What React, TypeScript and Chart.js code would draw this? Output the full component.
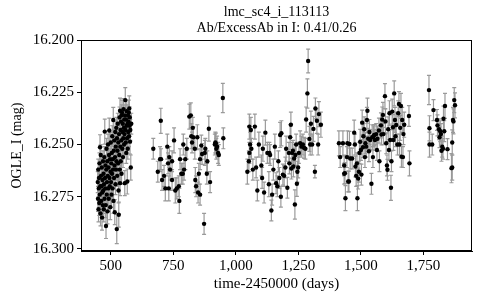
import React, { useEffect, useRef } from "react";
import { Chart, registerables } from "chart.js";

Chart.register(...registerables);

const TITLE_LINES = ["lmc_sc4_i_113113", "Ab/ExcessAb in I: 0.41/0.26"];
const X_TITLE = "time-2450000 (days)";
const Y_TITLE = "OGLE_I (mag)";
const X_TICKS = [500, 750, 1000, 1250, 1500, 1750];
const Y_TICKS = [16.2, 16.225, 16.25, 16.275, 16.3];
const X_RANGE = [381, 1944];
const Y_RANGE = [16.2, 16.301];

// [day, magnitude, error]
const season1: [number, number, number][] = [
  [448, 16.268, 0.005], [449, 16.276, 0.006], [450, 16.262, 0.005], [451, 16.281, 0.006], [452, 16.271, 0.005],
  [453, 16.266, 0.005], [454, 16.278, 0.006], [455, 16.259, 0.005], [456, 16.274, 0.005], [457, 16.2513, 0.006],
  [458, 16.27, 0.005], [459, 16.283, 0.006], [460, 16.255, 0.005], [461, 16.265, 0.005], [462, 16.277, 0.006],
  [463, 16.27, 0.005], [464, 16.261, 0.005], [465, 16.285, 0.006], [466, 16.273, 0.005], [467, 16.267, 0.005],
  [468, 16.279, 0.006], [469, 16.258, 0.005], [470, 16.272, 0.005], [471, 16.264, 0.005], [472, 16.281, 0.006],
  [473, 16.269, 0.005], [474, 16.256, 0.005], [475, 16.276, 0.006], [476, 16.2438, 0.006], [477, 16.266, 0.005],
  [478, 16.271, 0.005], [479, 16.26, 0.005], [480, 16.279, 0.006], [481, 16.289, 0.006], [482, 16.262, 0.005],
  [483, 16.252, 0.005], [484, 16.274, 0.005], [485, 16.268, 0.005], [486, 16.258, 0.005], [487, 16.282, 0.006],
  [488, 16.265, 0.005], [489, 16.25, 0.005], [490, 16.271, 0.005], [491, 16.261, 0.005], [492, 16.276, 0.006],
  [493, 16.255, 0.005], [494, 16.2433, 0.006], [495, 16.266, 0.005], [496, 16.27, 0.005], [497, 16.257, 0.005],
  [498, 16.28, 0.006], [499, 16.263, 0.005], [500, 16.249, 0.005], [501, 16.268, 0.005], [502, 16.259, 0.005],
  [503, 16.274, 0.006], [504, 16.254, 0.005], [505, 16.264, 0.005], [506, 16.246, 0.005], [507, 16.271, 0.005],
  [508, 16.257, 0.005], [509, 16.262, 0.005], [510, 16.2382, 0.006], [511, 16.277, 0.006], [512, 16.253, 0.005],
  [513, 16.266, 0.005], [514, 16.248, 0.005], [515, 16.26, 0.005], [516, 16.2824, 0.006], [517, 16.256, 0.005],
  [518, 16.244, 0.005], [519, 16.269, 0.005], [520, 16.251, 0.005], [521, 16.262, 0.005], [522, 16.242, 0.005],
  [523, 16.258, 0.005], [524, 16.2905, 0.007], [525, 16.247, 0.005], [526, 16.265, 0.005], [527, 16.253, 0.005],
  [528, 16.24, 0.005], [529, 16.259, 0.005], [530, 16.249, 0.005], [531, 16.272, 0.006], [532, 16.2836, 0.006],
  [533, 16.245, 0.005], [534, 16.255, 0.005], [535, 16.237, 0.005], [536, 16.262, 0.005], [537, 16.2338, 0.006],
  [537, 16.2685, 0.006], [538, 16.251, 0.005], [539, 16.243, 0.005], [540, 16.258, 0.005], [541, 16.239, 0.005],
  [542, 16.248, 0.005], [543, 16.264, 0.005], [544, 16.236, 0.005], [545, 16.2347, 0.006], [546, 16.252, 0.005],
  [547, 16.244, 0.005], [548, 16.24, 0.005], [549, 16.256, 0.005], [550, 16.247, 0.005], [551, 16.233, 0.005],
  [552, 16.242, 0.005], [553, 16.25, 0.005], [554, 16.238, 0.005], [555, 16.245, 0.005], [556, 16.2685, 0.006],
  [557, 16.236, 0.005], [558, 16.2287, 0.006], [559, 16.243, 0.005], [560, 16.249, 0.005], [561, 16.238, 0.005],
  [562, 16.254, 0.005], [563, 16.241, 0.005], [564, 16.234, 0.005], [565, 16.247, 0.005], [566, 16.2677, 0.006],
  [567, 16.24, 0.005], [568, 16.252, 0.005], [569, 16.236, 0.005], [570, 16.244, 0.005], [571, 16.239, 0.005],
  [572, 16.2347, 0.006], [573, 16.246, 0.005], [574, 16.2327, 0.006], [575, 16.241, 0.005], [576, 16.237, 0.005],
  [577, 16.2486, 0.006], [578, 16.243, 0.005], [580, 16.261, 0.006], [582, 16.24, 0.005],
];

const season2: [number, number, number][] = [
  [670, 16.252, 0.005], [688, 16.263, 0.005], [697, 16.257, 0.006], [700, 16.2386, 0.006], [701, 16.257, 0.005],
  [705, 16.267, 0.005], [713, 16.265, 0.005], [718, 16.271, 0.006], [726, 16.251, 0.006], [729, 16.259, 0.005],
  [732, 16.271, 0.006], [734, 16.256, 0.005], [737, 16.262, 0.005], [745, 16.258, 0.005], [745, 16.267, 0.005],
  [753, 16.248, 0.006], [758, 16.272, 0.006], [764, 16.271, 0.005], [772, 16.27, 0.005], [774, 16.277, 0.006],
  [777, 16.257, 0.005], [782, 16.264, 0.005], [788, 16.264, 0.005], [790, 16.25, 0.005], [793, 16.262, 0.005],
  [798, 16.257, 0.005], [804, 16.252, 0.005], [814, 16.2366, 0.006], [820, 16.236, 0.006], [822, 16.246, 0.006],
  [825, 16.249, 0.005], [828, 16.242, 0.005], [830, 16.2465, 0.005], [836, 16.252, 0.005], [838, 16.267, 0.006],
  [841, 16.27, 0.005], [846, 16.2465, 0.006], [849, 16.273, 0.005], [852, 16.264, 0.005], [857, 16.257, 0.005],
  [857, 16.274, 0.005], [862, 16.2505, 0.005], [865, 16.2545, 0.005], [873, 16.288, 0.005], [876, 16.254, 0.006],
  [878, 16.252, 0.005], [884, 16.264, 0.005], [886, 16.258, 0.005], [892, 16.2424, 0.006], [897, 16.268, 0.005],
  [916, 16.25, 0.005], [918, 16.249, 0.005], [920, 16.2495, 0.005], [922, 16.252, 0.005], [925, 16.251, 0.005],
  [929, 16.254, 0.005], [932, 16.255, 0.005], [948, 16.2277, 0.007], [950, 16.247, 0.005],
];

const season3: [number, number, number][] = [
  [1046, 16.263, 0.006], [1052, 16.258, 0.005], [1054, 16.2414, 0.006], [1054, 16.254, 0.005], [1057, 16.25, 0.006],
  [1060, 16.243, 0.006], [1062, 16.252, 0.005], [1068, 16.262, 0.005], [1076, 16.2414, 0.006], [1081, 16.261, 0.005],
  [1086, 16.272, 0.005], [1092, 16.25, 0.006], [1102, 16.26, 0.005], [1105, 16.266, 0.005], [1108, 16.252, 0.006],
  [1113, 16.273, 0.005], [1118, 16.2443, 0.006], [1126, 16.254, 0.005], [1132, 16.269, 0.006], [1134, 16.254, 0.005],
  [1137, 16.255, 0.005], [1142, 16.2816, 0.005], [1145, 16.274, 0.005], [1150, 16.262, 0.005], [1156, 16.251, 0.006],
  [1161, 16.2685, 0.005], [1166, 16.27, 0.005], [1170, 16.258, 0.005], [1174, 16.266, 0.005], [1177, 16.2454, 0.006],
  [1180, 16.275, 0.005], [1182, 16.2446, 0.006], [1188, 16.2644, 0.005], [1193, 16.265, 0.005], [1198, 16.261, 0.005],
  [1201, 16.252, 0.006], [1206, 16.2707, 0.005], [1212, 16.254, 0.005], [1214, 16.259, 0.005], [1217, 16.2465, 0.006],
  [1220, 16.2405, 0.006], [1222, 16.2615, 0.005], [1225, 16.254, 0.005], [1228, 16.253, 0.005], [1230, 16.2605, 0.005],
  [1233, 16.2567, 0.005], [1236, 16.2787, 0.007], [1238, 16.255, 0.005], [1241, 16.25, 0.005], [1244, 16.2688, 0.006],
  [1246, 16.263, 0.005], [1249, 16.261, 0.005], [1252, 16.254, 0.005], [1257, 16.2494, 0.006], [1262, 16.251, 0.005],
  [1268, 16.25, 0.005], [1273, 16.2516, 0.005], [1278, 16.252, 0.005], [1281, 16.238, 0.006], [1286, 16.2255, 0.007],
  [1289, 16.21, 0.0057], [1294, 16.2473, 0.006], [1297, 16.25, 0.005], [1300, 16.24, 0.006], [1305, 16.25, 0.005],
  [1310, 16.2425, 0.006], [1316, 16.263, 0.003], [1318, 16.2327, 0.005], [1324, 16.2386, 0.006], [1329, 16.25, 0.005],
  [1332, 16.2354, 0.006], [1340, 16.2405, 0.006],
];

const season4: [number, number, number][] = [
  [1412, 16.2494, 0.006], [1417, 16.256, 0.005], [1428, 16.2494, 0.006], [1433, 16.26, 0.005], [1433, 16.264, 0.005],
  [1436, 16.2637, 0.005], [1438, 16.2757, 0.006], [1444, 16.256, 0.005], [1446, 16.2494, 0.006], [1449, 16.2677, 0.005],
  [1452, 16.2677, 0.005], [1454, 16.2497, 0.006], [1457, 16.2567, 0.005], [1465, 16.2567, 0.005], [1473, 16.2443, 0.006],
  [1476, 16.25, 0.005], [1478, 16.2605, 0.005], [1481, 16.265, 0.005], [1484, 16.259, 0.005], [1486, 16.2757, 0.006],
  [1489, 16.2663, 0.005], [1492, 16.263, 0.005], [1494, 16.254, 0.005], [1497, 16.2487, 0.006], [1500, 16.2526, 0.005],
  [1502, 16.2644, 0.005], [1505, 16.2395, 0.006], [1508, 16.2513, 0.005], [1510, 16.246, 0.006], [1513, 16.2427, 0.006],
  [1516, 16.256, 0.005], [1518, 16.2494, 0.005], [1521, 16.251, 0.005], [1524, 16.2382, 0.006], [1526, 16.2338, 0.006],
  [1529, 16.2472, 0.005], [1532, 16.2532, 0.005], [1534, 16.244, 0.006], [1537, 16.2478, 0.005], [1542, 16.2688, 0.005],
  [1545, 16.2465, 0.006], [1548, 16.256, 0.005], [1550, 16.246, 0.005], [1553, 16.2454, 0.005], [1556, 16.2478, 0.005],
  [1561, 16.245, 0.005], [1564, 16.2526, 0.005], [1566, 16.2472, 0.006], [1572, 16.2433, 0.006], [1574, 16.258, 0.005],
  [1580, 16.2408, 0.006], [1582, 16.2452, 0.005], [1585, 16.238, 0.006], [1588, 16.2358, 0.006], [1590, 16.245, 0.005],
  [1596, 16.2268, 0.006], [1598, 16.2389, 0.006], [1601, 16.2494, 0.005], [1604, 16.26, 0.005], [1606, 16.2621, 0.005],
  [1609, 16.2427, 0.006], [1612, 16.2526, 0.005], [1614, 16.235, 0.006], [1617, 16.2478, 0.005], [1620, 16.2707, 0.006],
  [1622, 16.258, 0.005], [1625, 16.2342, 0.006], [1628, 16.2417, 0.006], [1630, 16.2478, 0.005], [1633, 16.2255, 0.006],
  [1636, 16.2382, 0.006], [1638, 16.246, 0.005], [1641, 16.2406, 0.006], [1646, 16.25, 0.005], [1649, 16.235, 0.006],
  [1652, 16.2306, 0.006], [1654, 16.25, 0.005], [1657, 16.242, 0.006], [1660, 16.2315, 0.006], [1662, 16.2558, 0.005],
  [1665, 16.2382, 0.006], [1668, 16.256, 0.005], [1670, 16.245, 0.005], [1673, 16.2405, 0.006], [1692, 16.2363, 0.005],
  [1694, 16.259, 0.006],
];

const season5: [number, number, number][] = [
  [1772, 16.2239, 0.007], [1774, 16.2422, 0.006], [1774, 16.25, 0.006], [1785, 16.25, 0.005], [1790, 16.2335, 0.005],
  [1804, 16.2382, 0.005], [1806, 16.2408, 0.005], [1812, 16.2427, 0.005], [1814, 16.2465, 0.005], [1817, 16.2436, 0.005],
  [1820, 16.245, 0.005], [1822, 16.253, 0.005], [1825, 16.251, 0.005], [1828, 16.252, 0.005], [1830, 16.2376, 0.006],
  [1833, 16.2436, 0.005], [1836, 16.2315, 0.006], [1846, 16.2522, 0.005], [1862, 16.2613, 0.007], [1865, 16.249, 0.006],
  [1865, 16.261, 0.006], [1868, 16.2382, 0.006], [1870, 16.2389, 0.006], [1873, 16.2287, 0.006], [1876, 16.2312, 0.006],
];

const allObs = [...season1, ...season2, ...season3, ...season4, ...season5];

const FONT = "'Liberation Serif', 'Times New Roman', Times, serif";

const errorBarPlugin = {
  id: "errorBars",
  beforeDatasetsDraw(chart: any) {
    const { ctx, chartArea } = chart;
    const x = chart.scales.x;
    const y = chart.scales.y;
    ctx.save();
    ctx.beginPath();
    ctx.rect(chartArea.left, chartArea.top, chartArea.width, chartArea.height);
    ctx.clip();
    ctx.strokeStyle = "#9a9a9a";
    ctx.lineWidth = 1.2;
    for (const [d, m, e] of allObs) {
      const px = x.getPixelForValue(d);
      const t = y.getPixelForValue(m - e);
      const b = y.getPixelForValue(m + e);
      ctx.beginPath();
      ctx.moveTo(px, t);
      ctx.lineTo(px, b);
      ctx.moveTo(px - 2, t);
      ctx.lineTo(px + 2, t);
      ctx.moveTo(px - 2, b);
      ctx.lineTo(px + 2, b);
      ctx.stroke();
    }
    ctx.restore();
  },
};

const framePlugin = {
  id: "frame",
  afterDraw(chart: any) {
    const { ctx, chartArea } = chart;
    ctx.save();
    ctx.strokeStyle = "#000";
    ctx.lineWidth = 1;
    ctx.strokeRect(
      Math.round(chartArea.left) + 0.5,
      Math.round(chartArea.top) + 0.5,
      Math.round(chartArea.width) - 1,
      Math.round(chartArea.height) - 1
    );
    ctx.restore();
  },
};

export default function App() {
  const ref = useRef<HTMLCanvasElement | null>(null);

  useEffect(() => {
    if (!ref.current) return;
    const chart = new Chart(ref.current, {
      type: "scatter",
      data: {
        datasets: [
          {
            label: "OGLE I",
            data: allObs.map(([d, m]) => ({ x: d, y: m })),
            backgroundColor: "#000",
            borderColor: "#000",
            pointRadius: 2.2,
            pointHoverRadius: 2.2,
            borderWidth: 0,
          },
        ],
      },
      options: {
        animation: false,
        responsive: false,
        events: [],
        layout: { padding: { top: 0, right: 8, left: 0, bottom: 0 } },
        plugins: {
          legend: { display: false },
          tooltip: { enabled: false },
          title: {
            display: true,
            text: TITLE_LINES,
            fullSize: false,
            color: "#000",
            font: { family: FONT, size: 14, weight: "normal", lineHeight: 1.15 },
            padding: { top: 4, bottom: 4 },
          },
        },
        scales: {
          x: {
            type: "linear",
            min: X_RANGE[0],
            max: X_RANGE[1],
            afterBuildTicks: (s: any) => {
              s.ticks = X_TICKS.map((v) => ({ value: v }));
            },
            afterFit: (s: any) => {
              s.height = 49;
            },
            ticks: {
              color: "#000",
              font: { family: FONT, size: 15 },
              padding: 2,
              maxRotation: 0,
              callback: (v: any) => Number(v).toLocaleString("en-US"),
            },
            grid: { drawOnChartArea: false, drawTicks: true, tickLength: 4, color: "#000" },
            border: { display: true, color: "#000" },
            title: {
              display: true,
              text: X_TITLE,
              color: "#000",
              font: { family: FONT, size: 15, lineHeight: 1.2 },
              padding: { top: 7, bottom: 7 },
            },
          },
          y: {
            type: "linear",
            reverse: true,
            min: Y_RANGE[0],
            max: Y_RANGE[1],
            afterBuildTicks: (s: any) => {
              s.ticks = Y_TICKS.map((v) => ({ value: v }));
            },
            afterFit: (s: any) => {
              s.width = 81;
            },
            ticks: {
              color: "#000",
              font: { family: FONT, size: 15 },
              padding: 3,
              callback: (v: any) => Number(v).toFixed(3),
            },
            grid: { drawOnChartArea: false, drawTicks: true, tickLength: 4, color: "#000" },
            border: { display: true, color: "#000" },
            title: {
              display: true,
              text: Y_TITLE,
              color: "#000",
              font: { family: FONT, size: 14, lineHeight: 1.2 },
              padding: { top: 9, bottom: 9 },
            },
          },
        },
      },
      plugins: [errorBarPlugin, framePlugin],
    });
    return () => chart.destroy();
  }, []);

  return (
    <div style={{ position: "fixed", left: 0, top: 0, width: 480, height: 300, background: "#fff" }}>
      <canvas ref={ref} width={480} height={300} style={{ width: 480, height: 300, display: "block" }} />
    </div>
  );
}
